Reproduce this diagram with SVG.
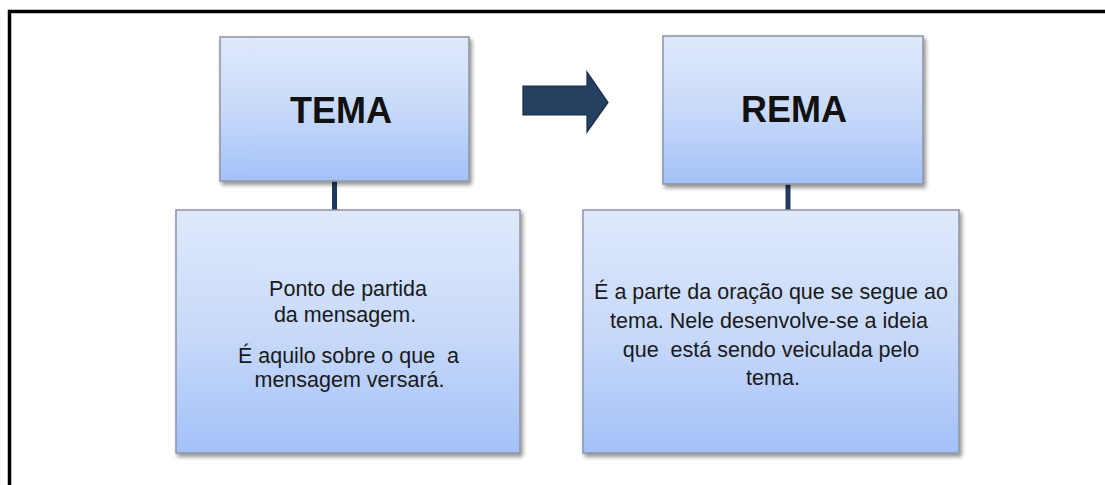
<svg xmlns="http://www.w3.org/2000/svg" width="1105" height="485" viewBox="0 0 1105 485">
<defs>
<linearGradient id="g" x1="0" y1="0" x2="0" y2="1">
<stop offset="0" stop-color="#dfe9fb"/>
<stop offset="0.5" stop-color="#c8daf9"/>
<stop offset="1" stop-color="#a3c1f8"/>
</linearGradient>
<filter id="sh" x="-10%" y="-10%" width="130%" height="130%">
<feGaussianBlur in="SourceAlpha" stdDeviation="2"/>
<feOffset dx="2" dy="3" result="b"/>
<feComponentTransfer><feFuncA type="linear" slope="0.45"/></feComponentTransfer>
<feMerge><feMergeNode/><feMergeNode in="SourceGraphic"/></feMerge>
</filter>
</defs>
<style>
.box{fill:url(#g);stroke:#8e94a3;stroke-width:1.5;filter:url(#sh)}
.title{font-family:"Liberation Sans",Arial,sans-serif;font-weight:bold;font-size:36px;fill:#111;text-anchor:middle}
.body{font-family:"Liberation Sans",Arial,sans-serif;font-size:21.5px;fill:#1a1a1a;text-anchor:middle}
.conn{stroke:#1f3a5e;stroke-width:5;fill:none}
</style>
<rect width="1105" height="485" fill="#fff"/>
<path d="M9.5 490 V11.5 H1110" fill="none" stroke="#000" stroke-width="3.5"/>
<g id="connectors">
<line class="conn" x1="334.5" y1="181" x2="334.5" y2="212"/>
<line class="conn" x1="788" y1="184" x2="788" y2="212"/>
<path d="M523 86 H587 V72 L608 102.5 L587 132 V115 H523 Z" fill="#243f60" stroke="#1a2c44" stroke-width="1.2"/>
</g>
<g id="tema">
<rect class="box" x="220" y="37" width="249" height="144"/>
<text class="title" x="341" y="123">TEMA</text>
</g>
<g id="rema">
<rect class="box" x="663" y="36" width="260" height="148"/>
<text class="title" x="794" y="122">REMA</text>
</g>
<g id="tema-desc">
<rect class="box" x="176" y="210" width="344" height="243"/>
<text class="body" x="348" y="296">Ponto de partida</text>
<text class="body" x="345" y="322">da mensagem.</text>
<text class="body" x="348.5" y="363" xml:space="preserve">É aquilo sobre o que  a</text>
<text class="body" x="349.5" y="387">mensagem versará.</text>
</g>
<g id="rema-desc">
<rect class="box" x="583" y="210" width="376" height="243"/>
<text class="body" x="771" y="299">É a parte da oração que se segue ao</text>
<text class="body" x="769" y="328">tema. Nele desenvolve-se a ideia</text>
<text class="body" x="771" y="357" xml:space="preserve">que  está sendo veiculada pelo</text>
<text class="body" x="773" y="385">tema.</text>
</g>
</svg>
